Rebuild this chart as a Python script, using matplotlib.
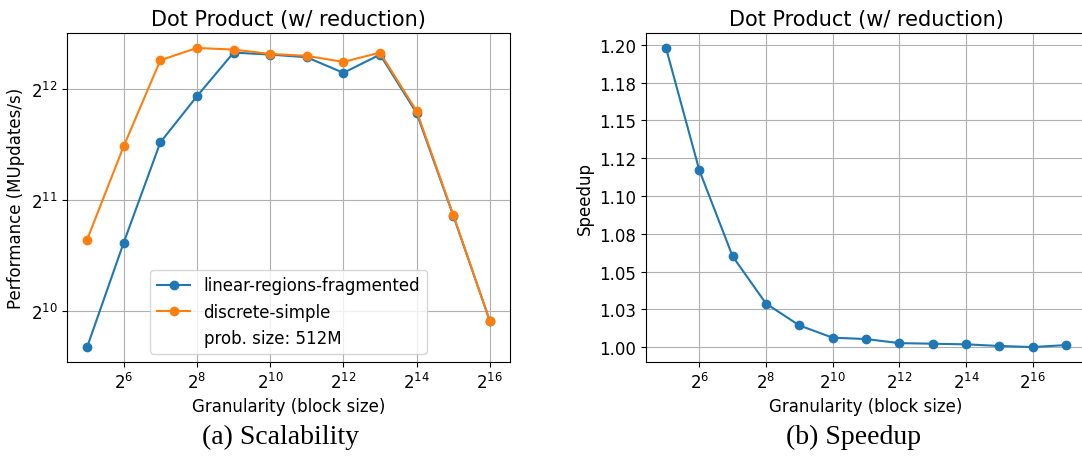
import matplotlib
matplotlib.use("Agg")
import matplotlib.pyplot as plt
from matplotlib.ticker import NullLocator

# block sizes (powers of two)
sizes_a = [2**k for k in range(5, 17)]
sizes_b = [2**k for k in range(5, 18)]

# performance, MUpdates/s
perf_linear = [816, 1569, 2937, 3918, 5148, 5085, 5000, 4536, 5085, 3527, 1857, 960]
perf_discrete = [1598, 2868, 4908, 5300, 5246, 5106, 5043, 4857, 5148, 3571, 1865, 960]

# speedup
speedup = [1.198, 1.117, 1.060, 1.0288, 1.0143, 1.0062, 1.0053, 1.0026,
           1.0022, 1.0018, 1.0007, 1.0000, 1.0013]

speed_ticks = [1.0, 1.025, 1.05, 1.075, 1.1, 1.125, 1.15, 1.175, 1.2]
speed_labels = ["1.00", "1.03", "1.05", "1.08", "1.10", "1.12", "1.15", "1.18", "1.20"]

xticks = [2**k for k in range(6, 17, 2)]

fig = plt.figure(figsize=(10.82, 4.6), dpi=100)
ax1 = fig.add_axes([67/1082, 1 - 363/460, 443/1082, 329/460])
ax2 = fig.add_axes([646/1082, 1 - 363/460, 440/1082, 329/460])

# (a) scalability
ax1.plot(sizes_a, perf_linear, "-o", label="linear-regions-fragmented")
ax1.plot(sizes_a, perf_discrete, "-o", label="discrete-simple")
ax1.plot([], [], " ", label="prob. size: 512M")
ax1.set_xscale("log", base=2)
ax1.set_yscale("log", base=2)
ax1.set_xticks(xticks)
ax1.set_yticks([2**10, 2**11, 2**12])
ax1.xaxis.set_minor_locator(NullLocator())
ax1.yaxis.set_minor_locator(NullLocator())
ax1.grid(True)
ax1.set_title("Dot Product (w/ reduction)", fontsize=15)
ax1.set_xlabel("Granularity (block size)", fontsize=12)
ax1.set_ylabel("Performance (MUpdates/s)", fontsize=12)
ax1.tick_params(labelsize=12)
ax1.legend(loc="lower center", fontsize=12)

# (b) speedup
ax2.plot(sizes_b, speedup, "-o")
ax2.set_xscale("log", base=2)
ax2.set_xticks(xticks)
ax2.xaxis.set_minor_locator(NullLocator())
ax2.set_yticks(speed_ticks)
ax2.set_yticklabels(speed_labels)
ax2.grid(True)
ax2.set_title("Dot Product (w/ reduction)", fontsize=15)
ax2.set_xlabel("Granularity (block size)", fontsize=12)
ax2.set_ylabel("Speedup", fontsize=12)
ax2.tick_params(labelsize=12)

fig.text(0.259, 0.05, "(a) Scalability", ha="center", va="center",
         fontsize=20, family="Liberation Serif")
fig.text(0.789, 0.05, "(b) Speedup", ha="center", va="center",
         fontsize=20, family="Liberation Serif")

fig.savefig("out.png", dpi=100)
